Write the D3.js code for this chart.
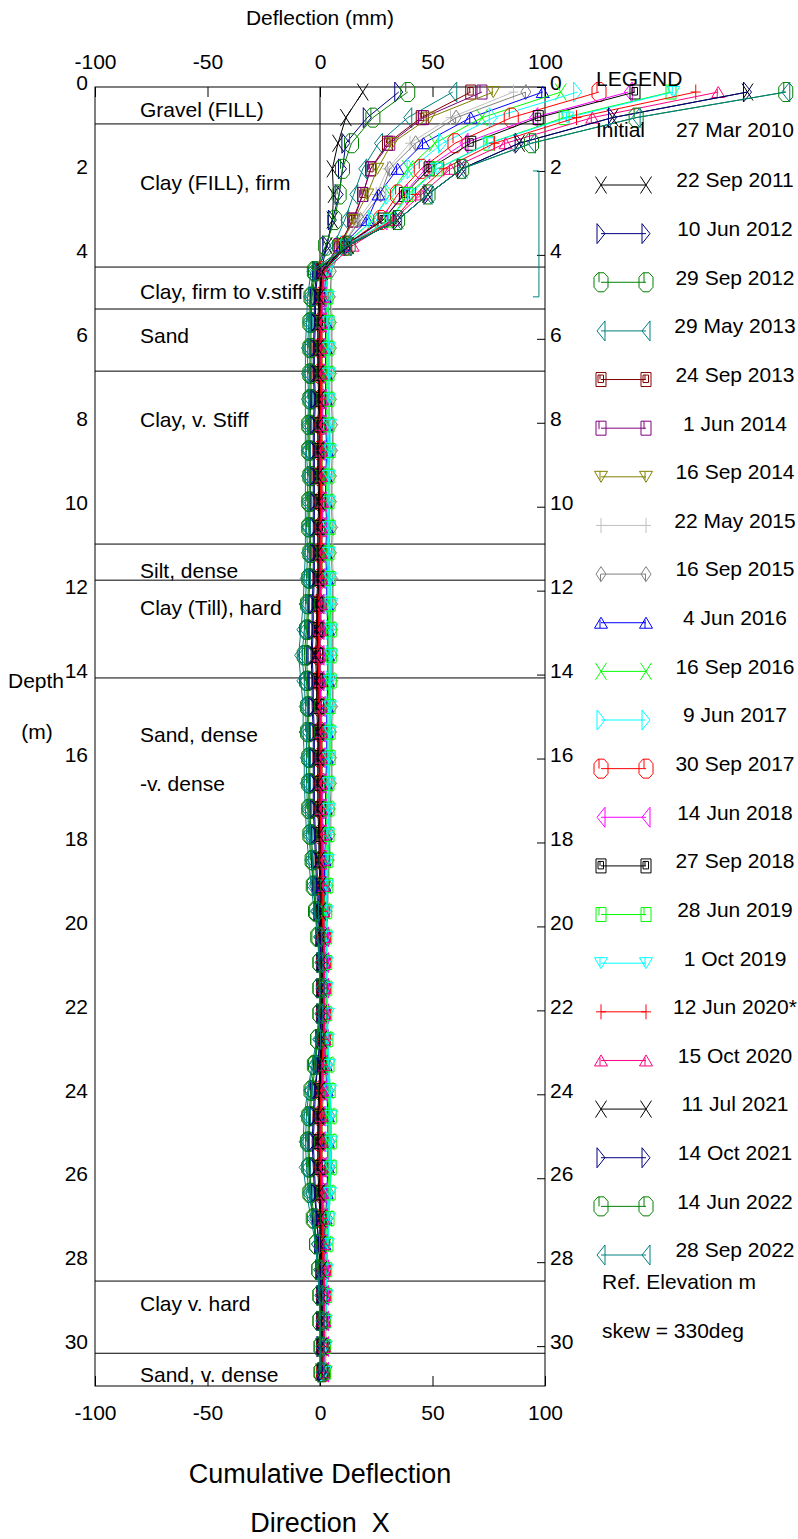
<!DOCTYPE html>
<html><head><meta charset="utf-8">
<script src="https://cdn.jsdelivr.net/npm/d3@7"></script>
<style>
body{margin:0;background:#fff}
text{font-family:"Liberation Sans",Arial,sans-serif;fill:#000}
</style>
</head><body>
<svg id="c" width="798" height="1539"></svg>
<script>
// ---------------- data ----------------
const depths = [0.12,0.73,1.34,1.95,2.56,3.17,3.78,4.39,5.00,5.61,6.22,6.83,7.44,8.05,8.66,9.27,9.88,10.49,11.10,11.71,12.32,12.93,13.54,14.15,14.76,15.37,15.98,16.59,17.20,17.81,18.42,19.03,19.64,20.25,20.86,21.47,22.08,22.69,23.30,23.91,24.52,25.13,25.74,26.35,26.96,27.57,28.18,28.79,29.40,30.01,30.62];
const xTicks = [-100,-50,0,50,100];
const depthTicks = [0,2,4,6,8,10,12,14,16,18,20,22,24,26,28,30];
const depthMax = 30.95;
const layerBounds = [0.88,4.29,5.29,6.77,10.89,11.75,14.08,28.45,30.17];
const layerNames = ["Gravel (FILL)","Clay (FILL), firm","Clay, firm to v.stiff","Sand","Clay, v. Stiff","Silt, dense","Clay (Till), hard","Sand, dense","-v. dense","Clay v. hard","Sand, v. dense"];
const layerNameDepths = [0.55,2.29,4.88,5.93,7.93,11.53,12.41,15.42,16.61,28.99,30.69];
const bracketDepths = [2.0,5.0];
const bracketX = 97.3;

const seriesNames = ["22 Sep 2011","10 Jun 2012","29 Sep 2012","29 May 2013","24 Sep 2013","1 Jun 2014","16 Sep 2014","22 May 2015","16 Sep 2015","4 Jun 2016","16 Sep 2016","9 Jun 2017","30 Sep 2017","14 Jun 2018","27 Sep 2018","28 Jun 2019","1 Oct 2019","12 Jun 2020*","15 Oct 2020","11 Jul 2021","14 Oct 2021","14 Jun 2022","28 Sep 2022"];

const s_2011_09 = [19,11.5,8,5.5,6,5.5,3,0.5, 0,-0.5,-0.5,-0.5,0,-0.5,-0.5,-0.5,0,-0.5,-0.5,-0.5,-1,-1,-1.5,-1,-1,-0.5,-0.5,-0.5,-0.5,0,0,0.5,0.5,1,1,1,1,1,0.5,0,-0.5,-0.5,-0.5,0,0.5,0.5,1,1,1,1,1];
const s_2012_06 = [35,21,11.5,10,8.5,5.5,3,-1, -2,-2,-2.5,-2.5,-2,-2.5,-2.5,-2.5,-2.5,-2.5,-2.5,-2.5,-3,-3,-3.5,-3,-3,-2.5,-2.5,-2.5,-2.5,-2,-1.5,-1,-0.5,0,0.5,0.5,0.5,0,-1,-2,-2.5,-3,-2.5,-2,-1.5,-0.5,0,0.5,0.5,0.5,1];
const s_2012_09 = [39,23.5,14,10,8.5,6.5,2.5,-2, -3.5,-4,-4,-4,-4,-4.5,-4.5,-4,-4.5,-4.5,-4,-4.5,-5,-5.5,-6,-5.5,-5,-5,-4.5,-4.5,-4.5,-4,-3,-2.5,-1.5,-0.5,0,0,0,-1,-2,-3.5,-4.5,-5,-4.5,-4,-2.5,-1.5,-0.5,0,0,0.5,0.5];
const s_2013_05 = [59,39,26,19,15,11,6,-3, -4.5,-5,-5.5,-5.5,-5,-5.5,-6,-5.5,-5.5,-6,-5.5,-6,-6.5,-7,-8,-7,-6.5,-6,-6,-6,-5.5,-5,-4,-3,-2,-1,0,0,0,-1,-3,-5,-6,-6.5,-6,-5,-3,-2,-1,0,0,0.5,0.5];
const s_2013_09 = [67,45,30,22.5,19,14.5,8.5,0.5, 0.5,0,0,0,0.5,0,0,0,0.5,0,0,0,-0.5,-0.5,-1,-0.5,-0.5,0,0,0,0,0.5,0.5,1,1,1.5,1.5,1.5,1.5,1.5,1,0.5,0,0,0,0.5,1,1,1.5,1.5,1.5,1.5,1.5];
const s_2014_06 = [72,46,31,22.5,19,15,8.5,0.5, 1,0.5,0.5,0.5,1,0.5,0.5,0.5,1,0.5,0.5,0.5,0,0,-0.5,0,0,0.5,0.5,0.5,0.5,1,1,1.5,1.5,2,2,2,2,2,1.5,1,0.5,0.5,0.5,1,1.5,1.5,2,2,2,2,2];
const s_2014_09 = [77,48.5,32,25.5,21,15,9,1, 1.5,1,1,1,1.5,1,1,1,1.5,1,1,1,0.5,0.5,0,0.5,0.5,1,1,1,1,1.5,1.5,2,2,2.5,2.5,2.5,2.5,2.5,2,1.5,1,1,1,1.5,2,2,2.5,2.5,2.5,2.5,2.5];
const s_2015_05 = [86,58,40,30,25,17,10,5, 5,5.5,5.5,5.5,5.5,6,6,5.5,5.5,6,5.5,6,6,6,6,6,6,5.5,5.5,5.5,5,5,4.5,4,3.5,3,3,3,3,3.5,4,4.5,5,5,5,4.5,4,3.5,3,2.5,2,2,2];
const s_2015_09 = [91.5,60.5,42.5,31,27,18,10,5, 4.5,5,5,5,5,5.5,5.5,5,5,5.5,5,5.5,5.5,5.5,5.5,5.5,5.5,5,5,5,4.5,4.5,4,3.5,3,2.5,2.5,2.5,2.5,3,3.5,4,4.5,4.5,4.5,4,3.5,3,2.5,2,1.5,1.5,1.5];
const s_2016_06 = [99,67,46,34.5,26,21,10,2.5, 2,2.5,2.5,2.5,2.5,2.5,3,2.5,2.5,3,2.5,3,3,3.5,3.5,3.5,3,3,3,2.5,2.5,2.5,2,2,1.5,1.5,1.5,1.5,1.5,2,2.5,3,3.5,3.5,3.5,3,2.5,2,1.5,1.5,1,1,1];
const s_2016_09 = [107,72,51,39,31,23.5,10.5,3, 2.5,3,3,3,3,3,3.5,3,3,3.5,3,3.5,3.5,4,4,4,3.5,3.5,3.5,3,3,3,2.5,2.5,2,2,2,2,2,2.5,3,3.5,4,4,4,3.5,3,2.5,2,2,1.5,1.5,1.5];
const s_2017_06 = [114.5,77,54.5,40.5,31,23.5,11,3, 3,3.5,3.5,3.5,3.5,3.5,4,3.5,3.5,4,3.5,4,4,4.5,4.5,4.5,4,4,4,3.5,3.5,3.5,3,3,2.5,2.5,2.5,2.5,2.5,3,3.5,4,4.5,4.5,4.5,4,3.5,3,2.5,2.5,2,2,2];
const s_2017_09 = [124,85,60,45,34.5,27,11,1, 0.5,0.5,0,0,0.5,0.5,0,0,0.5,0.5,0,0,-0.5,-0.5,-0.5,-0.5,0,0,0,0.5,0.5,0.5,1,1,1,1.5,1.5,1.5,1.5,1.5,1,0.5,0,0,0.5,0.5,1,1,1.5,1.5,1.5,1.5,1.5];
const s_2018_06 = [137,95,64,47,37,28,12,1.5, 1,1,0.5,0.5,1,1,0.5,0.5,1,1,0.5,0.5,0,0,0,0,0.5,0.5,0.5,1,1,1,1.5,1.5,1.5,2,2,2,2,2,1.5,1,0.5,0.5,1,1,1.5,1.5,2,2,2,2,2];
const s_2018_09 = [140,97,67,48.5,37.5,28,11,1, 0,0,-0.5,-0.5,0,0,-0.5,-0.5,0,0,-0.5,-0.5,-1,-1,-1,-1,-0.5,-0.5,-0.5,0,0,0,0.5,0.5,0.5,1,1,1,1,1,0.5,0,-0.5,-0.5,0,0,0.5,0.5,1,1,1,1,1];
const s_2019_06 = [156,108.5,75,52,39,31,11.5,3, 3.5,4,4,4,4,4,4.5,4,4,4.5,4,4.5,4.5,5,5,5,4.5,4.5,4.5,4,4,4,3.5,3.5,3,3,3,3,3,3.5,4,4.5,5,5,5,4.5,4,3.5,3,3,2.5,2.5,2.5];
const s_2019_10 = [157,110,75,52,40,31,11.5,3, 3.5,3.5,4,4,4,4.5,4.5,4,4,4,4,4.5,5,5,5,4.5,4.5,4.5,4,4,4,3.5,3.5,3,3,3,3,3,3.5,3.5,4,4.5,5,5,4.5,4.5,4,3.5,3,3,2.5,2.5,2];
const s_2020_06 = [167,114,77.5,55,42.5,32.5,12,1.5, 1,0,0,0,0.5,0,0,0,0.5,0,0,0,-0.5,-0.5,-1,-0.5,-0.5,0,0,0,0,0.5,0.5,1,1,1.5,1.5,1.5,1.5,1.5,1,0.5,0,0,0,0.5,1,1,1.5,1.5,1.5,1.5,1];
const s_2020_10 = [177,121,82.5,58,45,32.5,14.5,2, 1,0.5,0.5,0.5,1,0.5,0.5,0.5,1,0.5,0.5,0.5,0,0,-0.5,0,0,0.5,0.5,0.5,0.5,1,1,1.5,1.5,2,2,2,2,2,1.5,1,0.5,0.5,0.5,1,1.5,1.5,2,2,2,2,1.5];
const s_2021_07 = [190,130,88.5,63,48,34.5,12.5,1, -0.5,-1,-1,-1,-0.5,-1,-1,-1,-0.5,-1,-1,-1,-1.5,-1.5,-2,-1.5,-1.5,-1,-1,-1,-1,-0.5,-0.5,0,0,0.5,0.5,0.5,0.5,0.5,0,-0.5,-1,-1,-1,-0.5,0,0,0.5,0.5,0.5,0.5,0.5];
const s_2021_10 = [190,130,88.5,63,48,34.5,12.5,-1.5, -2.5,-2.5,-3,-3,-2.5,-3,-3,-3,-3,-3,-3,-3,-3.5,-3.5,-4,-3.5,-3.5,-3,-3,-3,-3,-2.5,-2,-1.5,-1,0,0.5,0.5,0.5,0,-1,-2.5,-3,-3.5,-3,-2.5,-1.5,-0.5,0,0.5,0.5,0.5,1];
const s_2022_06 = [207,140.5,94,63,48,34.5,12.5,-2.5, -4,-4.5,-4.5,-4.5,-4.5,-5,-5,-4.5,-5,-5,-4.5,-5,-5.5,-6,-7,-6,-5.5,-5.5,-5,-5,-5,-4.5,-3.5,-3,-2,-1,0,0,0,-1,-2.5,-4,-5,-5.5,-5,-4.5,-3,-1.5,-0.5,0,0,0.5,0.5];
const s_2022_09 = [207,140.5,94,63,48,34.5,12,-4, -5.5,-6,-6.5,-6.5,-6.5,-6.5,-6.5,-6.5,-6.5,-6.5,-6.5,-7,-7.5,-8.5,-9.5,-8.5,-7.5,-7.5,-7,-7,-6.5,-6,-5,-4,-2.5,-1,-0.5,0,-0.5,-1.5,-3.5,-5.5,-7,-7.5,-7.5,-6,-4,-2,-1,-0.5,0,0,0];

const seriesValues = [s_2011_09,s_2012_06,s_2012_09,s_2013_05,s_2013_09,s_2014_06,s_2014_09,s_2015_05,s_2015_09,s_2016_06,s_2016_09,s_2017_06,s_2017_09,s_2018_06,s_2018_09,s_2019_06,s_2019_10,s_2020_06,s_2020_10,s_2021_07,s_2021_10,s_2022_06,s_2022_09];

// ---------------- styles ----------------
const seriesColors = ["#000000","#000080","#008000","#008080","#800000","#800080","#808000","#c0c0c0","#808080","#0000ff","#00ff00","#00ffff","#ff0000","#ff00ff","#000000","#00ff00","#00ffff","#ff0000","#ff0080","#000000","#000080","#008000","#008080"];
const seriesMarkers = ["x","tri_r","oct","tri_l","sq2","sq","tri_d","plus","dia","tri_u","x","tri_r","oct","tri_l","sq2","sq","tri_d","plus","tri_u","x","tri_r","oct","tri_l"];
const markerPath = {
  x: "M-5.5,-8.5L5.5,8.5M-5.5,8.5L5.5,-8.5",
  tri_r: "M-4,-10L4,0L-4,10Z",
  tri_l: "M4,-10L-4,0L4,10Z",
  oct: "M-3,-9.5H3L7,-5V5L3,9.5H-3L-7,5V-5ZM-2,-9.5V0",
  sq: "M-5,-7H5V7H-5ZM-2,-7V1",
  sq2: "M-5,-7H5V7H-5ZM-3,-4.5H2.5V3H-3ZM-1,-4.5V0",
  tri_d: "M-6.5,-5.5H6.5L0,5.5ZM-1,-5.5V3",
  tri_u: "M-6.5,5.5H6.5L0,-5.5ZM-1,-3V5.5",
  plus: "M-5,0H5M0,-7.5V7.5",
  dia: "M0,-7.5L5,0L0,7.5L-5,0ZM-0.5,0V7.5"
};
const FS = 21;

// ---------------- chart ----------------
const svg = d3.select("#c");
const x = d3.scaleLinear().domain([-100,100]).range([95,545]);
const y = d3.scaleLinear().domain([0,depthMax]).range([87,1386]);

svg.append("g").selectAll("line").data(layerBounds).join("line")
  .attr("x1",x(-100)).attr("x2",x(100)).attr("y1",d=>y(d)).attr("y2",d=>y(d))
  .attr("stroke","#000").attr("stroke-width",1);

svg.append("g").selectAll("text").data(layerNames).join("text")
  .attr("x",140).attr("y",(d,i)=>y(layerNameDepths[i])).attr("dy","0.35em")
  .attr("font-size",FS).text(d=>d);

svg.append("line").attr("x1",x(0)).attr("x2",x(0)).attr("y1",y(0)).attr("y2",y(depthMax))
  .attr("stroke","#000").attr("stroke-width",1);

svg.append("rect").attr("x",x(-100)).attr("y",y(0)).attr("width",x(100)-x(-100)).attr("height",y(depthMax)-y(0))
  .attr("fill","none").attr("stroke","#000").attr("stroke-width",1);

function styleAxis(g){
  g.select(".domain").remove();
  g.selectAll("text").attr("font-size",FS).attr("font-family","Liberation Sans, Arial, sans-serif").attr("fill","#000");
  g.selectAll("line").attr("stroke","#000");
}
const fmt = d => String(d);
svg.append("g").attr("transform",`translate(0,${y(0)})`)
  .call(d3.axisTop(x).tickValues(xTicks).tickSize(-10).tickPadding(18).tickFormat(fmt))
  .call(styleAxis);
svg.append("g").attr("transform",`translate(0,${y(depthMax)})`)
  .call(d3.axisBottom(x).tickValues(xTicks).tickSize(-10).tickPadding(19).tickFormat(fmt))
  .call(styleAxis);
svg.append("g").attr("transform",`translate(${x(-100)},0)`)
  .call(d3.axisLeft(y).tickValues(depthTicks).tickSize(0).tickPadding(7).tickFormat(fmt))
  .call(styleAxis).call(g=>g.selectAll("text").attr("y",-4));
svg.append("g").attr("transform",`translate(${x(100)},0)`)
  .call(d3.axisRight(y).tickValues(depthTicks).tickSize(-8).tickPadding(5).tickFormat(fmt))
  .call(styleAxis).call(g=>g.selectAll("text").attr("y",-4));

svg.append("path")
  .attr("d",`M${x(bracketX)-6},${y(bracketDepths[0])}H${x(bracketX)}V${y(bracketDepths[1])}H${x(bracketX)-6}`)
  .attr("fill","none").attr("stroke","#008080").attr("stroke-width",1);

svg.append("text").attr("x",x(0)).attr("y",18).attr("dy","0.35em").attr("text-anchor","middle").attr("font-size",FS).text("Deflection (mm)");
svg.append("text").attr("x",36).attr("y",681).attr("dy","0.35em").attr("text-anchor","middle").attr("font-size",FS).text("Depth");
svg.append("text").attr("x",37).attr("y",732).attr("dy","0.35em").attr("text-anchor","middle").attr("font-size",FS).text("(m)");
svg.append("text").attr("x",x(0)).attr("y",1474).attr("dy","0.35em").attr("text-anchor","middle").attr("font-size",27).text("Cumulative Deflection");
svg.append("text").attr("x",x(0)).attr("y",1523).attr("dy","0.35em").attr("text-anchor","middle").attr("font-size",27).style("white-space","pre").text("Direction  X");

const line = d3.line().x(d=>x(d[1])).y(d=>y(d[0]));
seriesValues.forEach((vals,k)=>{
  const pts = depths.map((d,i)=>[d,vals[i]]).filter(p=>p[1]!==undefined);
  const g = svg.append("g");
  g.append("path").attr("d",line(pts)).attr("fill","none").attr("stroke",seriesColors[k]).attr("stroke-width",1);
  g.selectAll("path.m").data(pts).join("path").attr("class","m")
    .attr("transform",p=>`translate(${x(p[1])},${y(p[0])})`)
    .attr("d",markerPath[seriesMarkers[k]])
    .attr("fill","none").attr("stroke",seriesColors[k]).attr("stroke-width",1);
});

const lg = svg.append("g");
lg.append("text").attr("x",596).attr("y",79).attr("dy","0.35em").attr("font-size",FS).text("LEGEND");
lg.append("text").attr("x",596).attr("y",130).attr("dy","0.35em").attr("font-size",FS).text("Initial");
lg.append("text").attr("x",735).attr("y",130).attr("dy","0.35em").attr("text-anchor","middle").attr("font-size",FS).text("27 Mar 2010");
const legY = d3.scaleLinear().domain([0,seriesNames.length-1]).range([180,1250]);
seriesNames.forEach((name,k)=>{
  const yy = legY(k);
  const g = lg.append("g");
  g.append("line").attr("x1",601).attr("x2",646).attr("y1",yy+5).attr("y2",yy+5).attr("stroke",seriesColors[k]).attr("stroke-width",1);
  [601,646].forEach(xx=>g.append("path").attr("transform",`translate(${xx},${yy+5})`).attr("d",markerPath[seriesMarkers[k]])
    .attr("fill","none").attr("stroke",seriesColors[k]).attr("stroke-width",1));
  g.append("text").attr("x",735).attr("y",yy).attr("dy","0.35em").attr("text-anchor","middle").attr("font-size",FS).text(name);
});
lg.append("text").attr("x",602).attr("y",1282).attr("dy","0.35em").attr("font-size",FS).text("Ref. Elevation m");
lg.append("text").attr("x",602).attr("y",1331).attr("dy","0.35em").attr("font-size",FS).text("skew = 330deg");
</script>
</body></html>
